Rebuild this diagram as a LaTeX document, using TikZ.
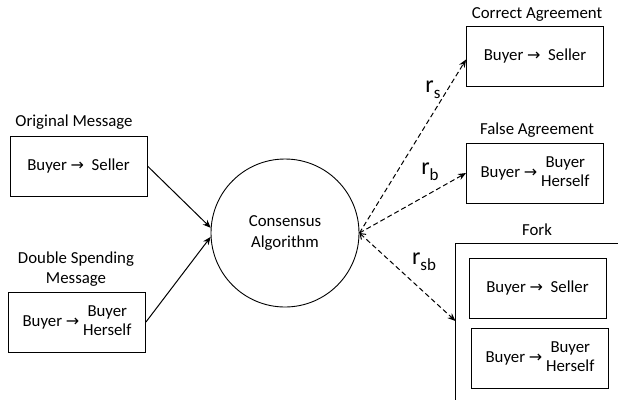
\documentclass[tikz,border=0pt]{standalone}
\usepackage{fontspec}
\setmainfont{Carlito}
\newfontfamily\arrowfont{DejaVu Sans}
\usetikzlibrary{arrows.meta,calc}
\newcommand{\ar}{{\arrowfont\fontsize{16}{16}\selectfont →}}
\newcommand{\rsub}[1]{{\fontsize{24}{24}\selectfont r}\raisebox{-6pt}{\fontsize{17}{17}\selectfont #1}}
\begin{document}
\begin{tikzpicture}[x=1pt,y=-1pt,
  every node/.style={font=\fontsize{16.8}{20.5}\selectfont},
  msgbox/.style={draw,line width=0.9pt,minimum width=137pt,minimum height=60pt,inner sep=0pt},
  lbl/.style={inner sep=0pt},
  solidarr/.style={line width=1pt,-{Stealth[length=8pt,width=6.5pt]}},
  dasharr/.style={dash pattern=on 5pt off 3pt,line width=1pt,-{Stealth[length=8pt,width=6.5pt]}}]
\useasboundingbox (0,0) rectangle (618,400);
\newcommand{\bs}{Buyer \ar\ \ Seller}
\newcommand{\bh}{Buyer \ar\ \begin{tabular}{@{}c@{}}Buyer\\[-1pt]Herself\end{tabular}}
% left
\node[msgbox] (om) at (78.5,166) {\bs};
\node[lbl] (omL) at (74,122) {Original Message};
\node[msgbox] (ds) at (77,322) {\bh};
\node[lbl,align=center] (dsL) at (76,269) {Double Spending\\Message};
% circle
\node[draw,circle,line width=0.9pt,minimum size=148pt,inner sep=0pt,align=center] (cc) at (285,233) {Consensus\\Algorithm};
% right
\node[msgbox] (ca) at (535,56.5) {\bs};
\node[lbl] (caL) at (537,14) {Correct Agreement};
\node[msgbox] (fa) at (535,173) {\bh};
\node[lbl] (faL) at (537,130) {False Agreement};
\node[lbl] (fkL) at (537,230) {Fork};
\draw[line width=0.9pt] (618,243) -- (455.5,243) -- (455.5,400);
\coordinate (fkin) at (455.5,321);
\node[msgbox] (fk1) at (537.5,288.5) {\bs};
\node[msgbox] (fk2) at (540,358) {\bh};
% arrows
\draw[solidarr] (om.east) -- (cc.176);
\draw[solidarr] (ds.east) -- (cc.183);
\draw[dasharr] (cc.east) -- ($(ca.west)+(0,3)$);
\draw[dasharr] (cc.east) -- (fa.west);
\draw[dasharr,{Straight Barb[length=5pt,width=7pt]}-{Stealth[length=8pt,width=6.5pt]}] (cc.east) -- (fkin);
\node[lbl] (rs) at (433,90) {\rsub{s}};
\node[lbl] (rb) at (430,172) {\rsub{b}};
\node[lbl] (rsb) at (424,262) {\rsub{sb}};
\end{tikzpicture}
\end{document}
